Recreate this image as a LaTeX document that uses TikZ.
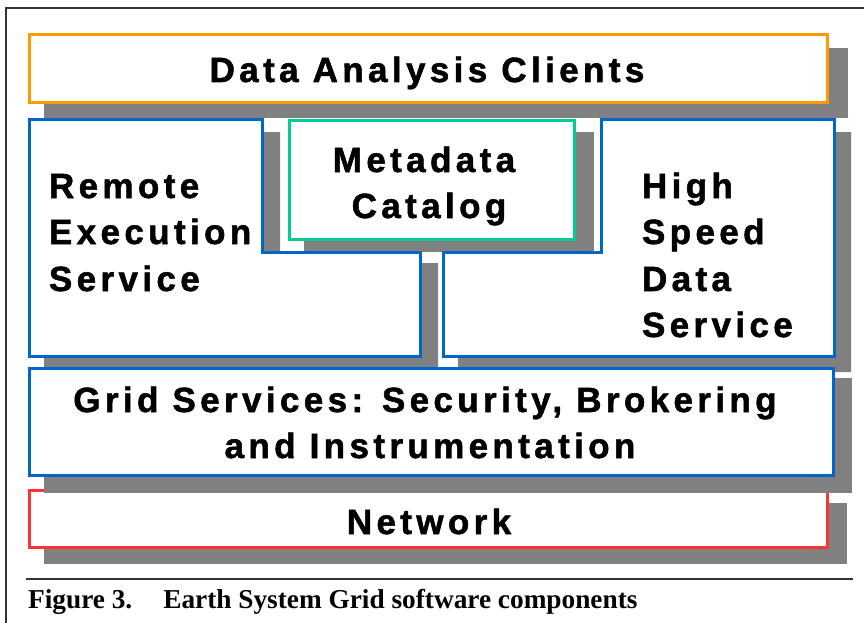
\documentclass[tikz,border=0pt]{standalone}
\usepackage{fontspec}
\newfontfamily\lblfont[LetterSpace=12.5,BoldFeatures={FakeBold=1.5}]{Liberation Sans}
\newfontfamily\capfont{Liberation Serif}
\definecolor{dacorange}{RGB}{255,153,0}
\definecolor{svcblue}{RGB}{0,102,204}
\definecolor{metagreen}{RGB}{0,204,153}
\definecolor{netred}{RGB}{255,51,51}
\definecolor{shadowgray}{RGB}{128,128,128}
\definecolor{rulegray}{RGB}{50,50,50}
\begin{document}
\begin{tikzpicture}[x=1pt,y=-1pt,
  shade/.style={fill=shadowgray,draw=none},
  layer/.style={draw=#1,fill=white,line width=3pt,line join=miter},
  lbl/.style={inner sep=0pt,outer sep=0pt,font=\lblfont\bfseries\fontsize{35}{46}\selectfont},
  lblc/.style={lbl,anchor=base},
  lbll/.style={lbl,anchor=base west}]
\useasboundingbox (0,0) rectangle (864,623);

% outer frame
\draw[rulegray,line width=2pt] (6,623) -- (6,8) -- (864,8);

% Network layer
\fill[shade] (44,503) rectangle (847,564);
\draw[layer=netred] (29,490) rectangle (827,547);

% shadows of the middle row
\fill[shade] (44,132) -- (280,132) -- (280,263) -- (438,263) -- (438,370) -- (44,370) -- cycle;
\fill[shade] (616,132) -- (851,132) -- (851,372) -- (458,372) -- (458,264) -- (616,264) -- cycle;
\fill[shade] (304,132) rectangle (594,252);

% Grid services layer
\fill[shade] (44,378) rectangle (852,493);
\draw[layer=svcblue] (29,368) rectangle (833,475);

% middle row
\draw[layer=svcblue] (29,120) -- (262,120) -- (262,252) -- (420,252) -- (420,356) -- (29,356) -- cycle;
\draw[layer=svcblue] (601,120) -- (834,120) -- (834,356) -- (443,356) -- (443,252) -- (601,252) -- cycle;
\draw[layer=metagreen] (289,121) rectangle (574,239);

% Data analysis clients layer
\fill[shade] (44,48) rectangle (848,118);
\draw[layer=dacorange] (29,35) rectangle (827,103);

% labels
\node[lblc] (dac) at (427,82) {Data Analysis Clients};
\node[lblc] (meta1) at (424,172) {Metadata};
\node[lblc] (meta2) at (429,218) {Catalog};
\node[lbll] (rem1) at (49,198) {Remote};
\node[lbll] (rem2) at (49,244) {Execution};
\node[lbll] (rem3) at (49,291) {Service};
\node[lbll] (hs1) at (642,198) {High};
\node[lbll] (hs2) at (642,244) {Speed};
\node[lbll] (hs3) at (642,291) {Data};
\node[lbll] (hs4) at (642,337) {Service};
\node[lblc] (grid1) at (425,412) {Grid Services: Security, Brokering};
\node[lblc] (grid2) at (430,458) {and Instrumentation};
\node[lblc] (net) at (429,534) {Network};

% caption
\draw[rulegray,line width=2pt] (26,579) -- (853,579);
\node[anchor=base west,inner sep=0pt,font=\capfont\bfseries\fontsize{27.3}{30}\selectfont] (cap) at (28,608)
  {Figure 3.\hspace{31pt}Earth System Grid software components};
\end{tikzpicture}
\end{document}
